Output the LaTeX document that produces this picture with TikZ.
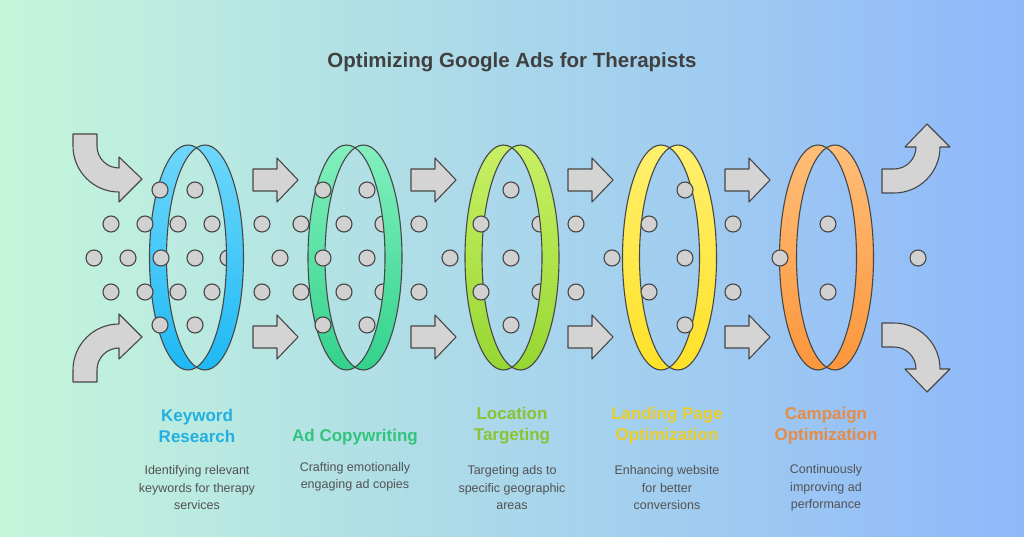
\documentclass[tikz,border=0pt]{standalone}
\usepackage{fontspec}
\setmainfont{Liberation Sans}
\begin{document}
\begin{tikzpicture}[x=1pt,y=1pt,
  dot/.style={circle,minimum size=16pt,inner sep=0pt,fill=black!18,draw=black!72,line width=1.1pt},
  blk/.style={fill=black!17,draw=black!72,line width=1.1pt,line join=round},
  ttl/.style={font=\bfseries\fontsize{17}{21}\selectfont,align=center},
  dsc/.style={font=\fontsize{12.5}{17.5}\selectfont,text=black!68,align=center}]
\useasboundingbox (0,0) rectangle (1024,536);
\shade[left color={rgb,255:red,196;green,246;blue,218}, right color={rgb,255:red,143;green,184;blue,251}] (0,0) rectangle (1024,536);
\node[font=\bfseries\fontsize{20.5}{24}\selectfont,text=black!75] (title) at (512,474) {Optimizing Google Ads for Therapists};
% straight arrows
\foreach \x/\n in {253/a,411/b,568/c,725/d}{
  \foreach \y/\m in {356/t,199/b}{
    \draw[blk] (\x,\y+11) -- (\x+24,\y+11) -- (\x+24,\y+22) -- (\x+45,\y) -- (\x+24,\y-22) -- (\x+24,\y-11) -- (\x,\y-11) -- cycle;
  }
}
% curved arrows
\def\curv{(-46,12) -- (-22,12) -- (-22,0) arc[start angle=180,end angle=270,radius=22] -- (0,-11) -- (23,-33) -- (0,-56) -- (0,-46) arc[start angle=270,end angle=180,radius=46] -- cycle}
\draw[blk,shift={(119,390)}] \curv;
\draw[blk,cm={1,0,0,-1,(119,166)}] \curv;
\draw[blk,cm={0,-1,-1,0,(894,167)}] \curv;
\draw[blk,cm={0,1,-1,0,(894,389)}] \curv;
% hidden dots (behind ring fronts)
\foreach \x/\y [count=\i] in {228/278,383/312,383/244,540/312,540/244}
  \node[dot] (h\i) at (\x,\y) {};
% rings
\foreach \cx/\ct/\cb [count=\i] in {196.5/{rgb,255:red,110;green,215;blue,250}/{rgb,255:red,30;green,185;blue,245},
  355/{rgb,255:red,130;green,240;blue,190}/{rgb,255:red,50;green,210;blue,140},
  512/{rgb,255:red,200;green,240;blue,100}/{rgb,255:red,150;green,215;blue,50},
  669.5/{rgb,255:red,255;green,240;blue,110}/{rgb,255:red,255;green,225;blue,40},
  826.5/{rgb,255:red,255;green,190;blue,120}/{rgb,255:red,252;green,150;blue,60}}{
  \path[even odd rule,top color=\ct,bottom color=\cb] (\cx-8.5,278.5) ellipse[x radius=38.5,y radius=112.5] (\cx+8.5,278.5) ellipse[x radius=38.5,y radius=112.5];
  \draw[black!72,line width=1.1pt] (\cx-8.5,278.5) ellipse[x radius=38.5,y radius=112.5] (\cx+8.5,278.5) ellipse[x radius=38.5,y radius=112.5];
}
% visible dots
\foreach \x/\y [count=\i] in {160/346,195/346,111/312,145/312,178/312,212/312,94/278,128/278,161/278,195/278,111/244,145/244,178/244,212/244,160/211,195/211,
  262/312,301/312,344/312,419/312,262/244,301/244,344/244,419/244,280/278,323/278,367/278,323/346,367/346,323/211,367/211,
  450/278,481/312,481/244,511/346,511/278,511/211,
  576/312,576/244,612/278,649/312,649/244,685/346,685/278,685/211,733/312,733/244,
  780/278,828/312,828/244,918/278}
  \node[dot] (v\i) at (\x,\y) {};
% labels
\node[ttl,text={rgb,255:red,35;green,175;blue,225}] (l1) at (197,110) {Keyword\\Research};
\node[ttl,text={rgb,255:red,50;green,195;blue,125}] (l2) at (355,99) {Ad Copywriting};
\node[ttl,text={rgb,255:red,140;green,195;blue,50}] (l3) at (512,110) {Location\\Targeting};
\node[ttl,text={rgb,255:red,235;green,205;blue,40}] (l4) at (667,110) {Landing Page\\Optimization};
\node[ttl,text={rgb,255:red,230;green,140;blue,70}] (l5) at (826,110) {Campaign\\Optimization};
\node[dsc] (d1) at (197,48) {Identifying relevant\\keywords for therapy\\services};
\node[dsc] (d2) at (355,59) {Crafting emotionally\\engaging ad copies};
\node[dsc] (d3) at (512,48) {Targeting ads to\\specific geographic\\areas};
\node[dsc] (d4) at (667,48) {Enhancing website\\for better\\conversions};
\node[dsc] (d5) at (826,48) {Continuously\\improving ad\\performance};
\end{tikzpicture}
\end{document}
